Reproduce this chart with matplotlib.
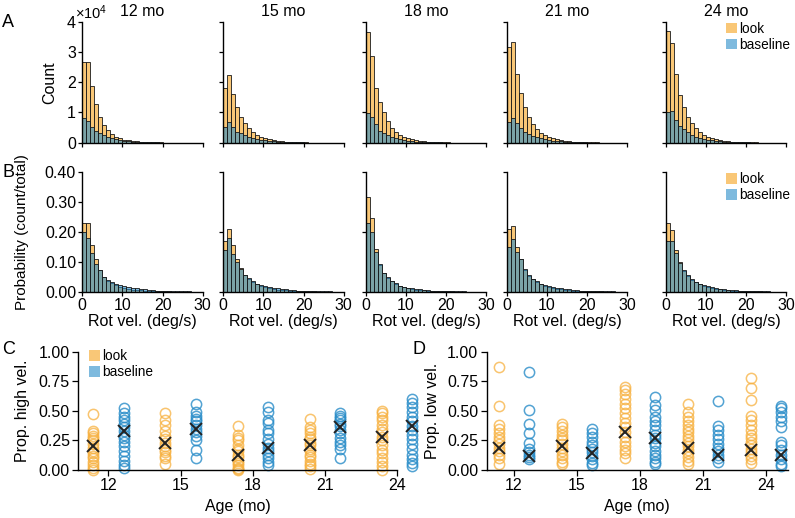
import numpy as np
import matplotlib
matplotlib.use("Agg")
import matplotlib.pyplot as plt
from matplotlib.colors import to_rgba
from matplotlib.patches import Patch

plt.rcParams['font.family'] = ['Liberation Sans', 'DejaVu Sans']
plt.rcParams['mathtext.default'] = 'regular'

ages = [12, 15, 18, 21, 24]
age_titles = ['12 mo', '15 mo', '18 mo', '21 mo', '24 mo']
bin_edges = np.arange(0, 31)

# panel A: counts per 1 deg/s bin
look_count_12 = [26800, 26800, 18700, 12800, 8600, 6000, 4200, 2900, 2000, 1400, 1000, 750, 560, 420, 320,
                 240, 180, 140, 100, 80, 60, 45, 35, 25, 20, 15, 10, 8, 5, 4]
base_count_12 = [8000, 7300, 5300, 3900, 3100, 2400, 1800, 1400, 1100, 850, 650, 500, 390, 300, 230,
                 180, 140, 110, 85, 65, 50, 40, 30, 22, 17, 13, 10, 7, 5, 4]
look_count_15 = [18000, 22400, 16100, 11900, 8600, 6400, 4700, 3400, 2500, 2000, 1500, 1100, 800, 600, 450,
                 340, 260, 200, 150, 110, 85, 65, 50, 38, 28, 20, 15, 11, 8, 6]
base_count_15 = [5300, 6900, 5100, 3600, 3100, 2400, 2000, 1600, 1300, 1000, 800, 620, 480, 370, 290,
                 220, 170, 130, 100, 78, 60, 46, 35, 27, 20, 15, 11, 8, 6, 4]
look_count_18 = [36700, 28800, 18000, 13600, 10200, 7300, 4700, 3600, 2500, 2000, 1500, 1100, 800, 600, 450,
                 340, 250, 190, 140, 100, 75, 55, 40, 30, 22, 16, 12, 9, 6, 4]
base_count_18 = [9700, 8400, 6200, 4000, 3100, 2500, 2000, 1500, 1150, 880, 670, 510, 390, 300, 230,
                 175, 135, 100, 78, 60, 45, 35, 26, 20, 15, 11, 8, 6, 4, 3]
look_count_21 = [31500, 33200, 22700, 16300, 11700, 8400, 6100, 4400, 3300, 2500, 2000, 1500, 1150, 870, 660,
                 500, 380, 290, 220, 165, 125, 95, 72, 55, 42, 32, 24, 18, 13, 10]
base_count_21 = [6900, 8000, 6400, 4700, 3600, 2900, 2300, 1800, 1400, 1100, 850, 660, 510, 400, 310,
                 240, 185, 145, 110, 85, 66, 51, 40, 31, 24, 18, 14, 11, 8, 6]
look_count_24 = [37000, 32800, 22700, 15800, 11700, 8600, 6600, 4700, 3500, 2600, 2000, 1500, 1150, 870, 660,
                 500, 380, 290, 220, 165, 125, 95, 72, 55, 42, 32, 24, 18, 13, 10]
base_count_24 = [10200, 10500, 7500, 5500, 4400, 3400, 2600, 2000, 1600, 1250, 950, 730, 560, 430, 330,
                 255, 195, 150, 115, 88, 68, 52, 40, 31, 24, 18, 14, 11, 8, 6]

# panel B: probability per bin
look_prob_12 = [0.229, 0.229, 0.156, 0.108, 0.072, 0.048, 0.036, 0.028, 0.021, 0.016, 0.012, 0.009, 0.007, 0.0055,
                0.0043, 0.0034, 0.0027, 0.0021, 0.0016, 0.0013, 0.001, 0.0008, 0.0006, 0.0005, 0.0004, 0.0003,
                0.00025, 0.0002, 0.00015, 0.0001]
base_prob_12 = [0.200, 0.178, 0.130, 0.093, 0.074, 0.049, 0.038, 0.033, 0.026, 0.022, 0.019, 0.015, 0.013, 0.011,
                0.009, 0.0075, 0.006, 0.005, 0.004, 0.0033, 0.0027, 0.0022, 0.0018, 0.0014, 0.0011, 0.0009,
                0.0007, 0.0005, 0.0004, 0.0003]
look_prob_15 = [0.170, 0.211, 0.156, 0.110, 0.080, 0.055, 0.043, 0.033, 0.025, 0.020, 0.016, 0.012, 0.009, 0.007,
                0.0055, 0.0043, 0.0034, 0.0027, 0.0021, 0.0016, 0.0013, 0.001, 0.0008, 0.0006, 0.0005, 0.0004,
                0.0003, 0.00025, 0.0002, 0.00015]
base_prob_15 = [0.141, 0.178, 0.126, 0.099, 0.075, 0.057, 0.046, 0.036, 0.027, 0.022, 0.019, 0.016, 0.013, 0.011,
                0.009, 0.0075, 0.006, 0.005, 0.004, 0.0033, 0.0027, 0.0022, 0.0018, 0.0014, 0.0011, 0.0009,
                0.0007, 0.0005, 0.0004, 0.0003]
look_prob_18 = [0.317, 0.247, 0.142, 0.088, 0.062, 0.046, 0.035, 0.026, 0.019, 0.015, 0.012, 0.009, 0.007, 0.0055,
                0.0043, 0.0034, 0.0027, 0.0021, 0.0016, 0.0013, 0.001, 0.0008, 0.0006, 0.0005, 0.0004, 0.0003,
                0.00025, 0.0002, 0.00015, 0.0001]
base_prob_18 = [0.230, 0.200, 0.133, 0.091, 0.064, 0.048, 0.037, 0.028, 0.020, 0.016, 0.013, 0.011, 0.009, 0.0075,
                0.006, 0.005, 0.004, 0.0033, 0.0027, 0.0022, 0.0018, 0.0014, 0.0011, 0.0009, 0.0007, 0.0005,
                0.0004, 0.0003, 0.0002, 0.00015]
look_prob_21 = [0.209, 0.220, 0.148, 0.110, 0.074, 0.054, 0.041, 0.032, 0.025, 0.020, 0.016, 0.012, 0.0095, 0.0075,
                0.006, 0.0047, 0.0037, 0.0029, 0.0023, 0.0018, 0.0014, 0.0011, 0.0009, 0.0007, 0.0005, 0.0004,
                0.0003, 0.00025, 0.0002, 0.00015]
base_prob_21 = [0.148, 0.176, 0.134, 0.108, 0.077, 0.057, 0.044, 0.035, 0.027, 0.022, 0.019, 0.016, 0.013, 0.011,
                0.009, 0.0075, 0.006, 0.005, 0.004, 0.0033, 0.0027, 0.0022, 0.0018, 0.0014, 0.0011, 0.0009,
                0.0007, 0.0005, 0.0004, 0.0003]
look_prob_24 = [0.231, 0.207, 0.141, 0.099, 0.070, 0.053, 0.040, 0.031, 0.025, 0.020, 0.016, 0.012, 0.0095, 0.0075,
                0.006, 0.0047, 0.0037, 0.0029, 0.0023, 0.0018, 0.0014, 0.0011, 0.0009, 0.0007, 0.0005, 0.0004,
                0.0003, 0.00025, 0.0002, 0.00015]
base_prob_24 = [0.170, 0.170, 0.130, 0.097, 0.071, 0.055, 0.042, 0.033, 0.027, 0.022, 0.018, 0.015, 0.012, 0.010,
                0.008, 0.0065, 0.0053, 0.0043, 0.0035, 0.0028, 0.0022, 0.0018, 0.0014, 0.0011, 0.0009, 0.0007,
                0.0005, 0.0004, 0.0003, 0.0002]

look_counts = [look_count_12, look_count_15, look_count_18, look_count_21, look_count_24]
base_counts = [base_count_12, base_count_15, base_count_18, base_count_21, base_count_24]
look_probs = [look_prob_12, look_prob_15, look_prob_18, look_prob_21, look_prob_24]
base_probs = [base_prob_12, base_prob_15, base_prob_18, base_prob_21, base_prob_24]

# panel C: proportion high velocity, one value per infant
high_look = [
    [0.47, 0.33, 0.31, 0.29, 0.27, 0.25, 0.22, 0.19, 0.16, 0.14, 0.12, 0.10, 0.07, 0.04, 0.02, 0.0],
    [0.48, 0.42, 0.38, 0.33, 0.29, 0.26, 0.23, 0.20, 0.17, 0.15, 0.12, 0.10, 0.05],
    [0.37, 0.30, 0.27, 0.25, 0.21, 0.18, 0.16, 0.13, 0.11, 0.08, 0.06, 0.04, 0.02, 0.01, 0.0],
    [0.43, 0.36, 0.34, 0.31, 0.28, 0.26, 0.23, 0.21, 0.18, 0.16, 0.13, 0.11, 0.08, 0.05, 0.03, 0.01],
    [0.50, 0.48, 0.45, 0.42, 0.38, 0.35, 0.32, 0.28, 0.25, 0.21, 0.17, 0.14, 0.10, 0.07, 0.03, 0.0],
]
high_base = [
    [0.52, 0.48, 0.45, 0.42, 0.39, 0.36, 0.33, 0.30, 0.27, 0.24, 0.20, 0.16, 0.12, 0.08, 0.04, 0.02],
    [0.56, 0.49, 0.46, 0.43, 0.41, 0.38, 0.35, 0.32, 0.29, 0.25, 0.17, 0.10],
    [0.53, 0.49, 0.42, 0.40, 0.34, 0.31, 0.26, 0.22, 0.19, 0.16, 0.13, 0.10, 0.07, 0.04],
    [0.48, 0.46, 0.44, 0.42, 0.39, 0.37, 0.34, 0.31, 0.27, 0.24, 0.21, 0.18, 0.10],
    [0.60, 0.57, 0.53, 0.49, 0.45, 0.41, 0.37, 0.34, 0.30, 0.26, 0.22, 0.18, 0.13, 0.09, 0.06, 0.03],
]
high_look_mean = [0.20, 0.23, 0.13, 0.21, 0.28]
high_base_mean = [0.33, 0.35, 0.19, 0.36, 0.37]

# panel D: proportion low velocity
low_look = [
    [0.87, 0.54, 0.38, 0.35, 0.31, 0.28, 0.25, 0.22, 0.19, 0.16, 0.13, 0.10, 0.05],
    [0.39, 0.36, 0.33, 0.30, 0.27, 0.25, 0.22, 0.19, 0.16, 0.13, 0.10, 0.07, 0.05],
    [0.70, 0.68, 0.64, 0.60, 0.56, 0.52, 0.48, 0.44, 0.40, 0.36, 0.32, 0.28, 0.24, 0.20, 0.17, 0.14, 0.10],
    [0.56, 0.49, 0.45, 0.41, 0.38, 0.35, 0.32, 0.29, 0.26, 0.23, 0.20, 0.17, 0.14, 0.11, 0.08, 0.05],
    [0.78, 0.69, 0.59, 0.46, 0.42, 0.38, 0.34, 0.30, 0.27, 0.24, 0.21, 0.18, 0.15, 0.12, 0.09, 0.06],
]
low_base = [
    [0.83, 0.51, 0.39, 0.31, 0.23, 0.18, 0.15, 0.13, 0.11, 0.09],
    [0.35, 0.31, 0.28, 0.24, 0.21, 0.18, 0.15, 0.12, 0.09, 0.06, 0.04],
    [0.62, 0.55, 0.51, 0.45, 0.41, 0.38, 0.34, 0.30, 0.27, 0.23, 0.20, 0.16, 0.13, 0.10, 0.07, 0.05],
    [0.58, 0.37, 0.34, 0.30, 0.26, 0.22, 0.19, 0.16, 0.13, 0.10, 0.07],
    [0.54, 0.52, 0.49, 0.45, 0.41, 0.36, 0.24, 0.21, 0.17, 0.13, 0.09, 0.05, 0.03],
]
low_look_mean = [0.19, 0.20, 0.32, 0.19, 0.17]
low_base_mean = [0.12, 0.14, 0.27, 0.13, 0.13]

LOOK = '#F7B03E'
BASE = '#288CC8'
look_face = to_rgba(LOOK, 0.7)
base_face = to_rgba(BASE, 0.6)
FS = 11.5

W, H = 795, 518
fig = plt.figure(figsize=(W / 100, H / 100), dpi=100)


def add_ax(left, top, right, bottom):
    return fig.add_axes([left / W, 1 - bottom / H, (right - left) / W, (bottom - top) / H])


def style(ax):
    for s in ['top', 'right']:
        ax.spines[s].set_visible(False)
    for s in ['left', 'bottom']:
        ax.spines[s].set_linewidth(1.0)
    ax.tick_params(direction='out', length=3, width=0.9, labelsize=FS, pad=1.5)


def legend(ax, **kw):
    handles = [Patch(facecolor=look_face, edgecolor='none', label='look'),
               Patch(facecolor=base_face, edgecolor='none', label='baseline')]
    ax.legend(handles=handles, frameon=False, fontsize=9.8, handlelength=0.8, handleheight=0.85,
              handletextpad=0.15, labelspacing=0.15, borderpad=0, borderaxespad=0, **kw)


centers = bin_edges[:-1] + 0.5
col_left = [82.3, 223.3, 365.7, 506.7, 665.7]
col_w = 120.5

for i in range(5):
    axA = add_ax(col_left[i], 21.7, col_left[i] + col_w, 142.7)
    axB = add_ax(col_left[i], 172.0, col_left[i] + col_w, 291.7)
    for ax, lk, bs in [(axA, look_counts[i], base_counts[i]), (axB, look_probs[i], base_probs[i])]:
        ax.bar(centers, lk, width=1, facecolor=look_face, edgecolor='#1a1a1a', linewidth=0.6)
        ax.bar(centers, bs, width=1, facecolor=base_face, edgecolor='#1a1a1a', linewidth=0.6)
        ax.set_xlim(0, 30)
        ax.set_xticks([0, 10, 20, 30])
        style(ax)
    axA.set_ylim(0, 40000)
    axA.set_yticks([0, 10000, 20000, 30000, 40000])
    axA.set_xticklabels([])
    axA.set_title(age_titles[i], fontsize=FS, pad=4)
    axB.set_ylim(0, 0.4)
    axB.set_xlabel('Rot vel. (deg/s)', fontsize=FS, labelpad=1)
    if i == 0:
        axA.set_yticklabels(['0', '1', '2', '3', '4'])
        axA.set_ylabel('Count', fontsize=FS)
        axA.yaxis.set_label_coords(-0.21, 0.5)
        axA.text(-0.06, 1.0, r'$\times10^{4}$', transform=axA.transAxes, fontsize=FS - 1,
                 ha='left', va='bottom')
        axB.set_yticks([0, 0.1, 0.2, 0.3, 0.4])
        axB.set_yticklabels(['0.00', '0.10', '0.20', '0.30', '0.40'])
        axB.set_ylabel('Probability (count/total)', fontsize=11)
        axB.yaxis.set_label_coords(-0.44, 0.5)
    else:
        axA.set_yticklabels([])
        axB.set_yticks([0, 0.2, 0.4])
        axB.set_yticklabels([])
    if i == 4:
        legend(axA, loc='upper right', bbox_to_anchor=(1.03, 1.0))
        legend(axB, loc='upper right', bbox_to_anchor=(1.03, 1.0))


def scatter_panel(ax, look_vals, base_vals, look_mean, base_mean, off):
    for j, a in enumerate(ages):
        ax.plot([a - off] * len(look_vals[j]), look_vals[j], 'o', mfc='none', mec=LOOK, mew=1.1,
                ms=7.4, alpha=0.75, clip_on=False)
        ax.plot([a + off] * len(base_vals[j]), base_vals[j], 'o', mfc='none', mec=BASE, mew=1.1,
                ms=7.4, alpha=0.8, clip_on=False)
    ax.plot([a - off for a in ages], look_mean, 'x', color='#222222', ms=9, mew=1.4, ls='none',
            clip_on=False, zorder=5)
    ax.plot([a + off for a in ages], base_mean, 'x', color='#222222', ms=9, mew=1.4, ls='none',
            clip_on=False, zorder=5)
    ax.set_ylim(0, 1)
    ax.set_yticks([0, 0.25, 0.5, 0.75, 1.0])
    ax.set_yticklabels(['0.00', '0.25', '0.50', '0.75', '1.00'])
    ax.set_xticks(ages)
    ax.set_xlabel('Age (mo)', fontsize=FS, labelpad=4)
    style(ax)
    ax.tick_params(length=4, pad=2)


axC = add_ax(78.3, 351.7, 397.0, 470.0)
scatter_panel(axC, high_look, high_base, high_look_mean, high_base_mean, 0.63)
axC.set_xlim(10.75, 24.0)
axC.set_ylabel('Prop. high vel.', fontsize=FS)
axC.yaxis.set_label_coords(-0.152, 0.5)
legend(axC, loc='upper left', bbox_to_anchor=(0.035, 1.02))

axD = add_ax(486.7, 351.7, 788.0, 470.0)
scatter_panel(axD, low_look, low_base, low_look_mean, low_base_mean, 0.7)
axD.set_xlim(10.7, 25.05)
axD.set_ylabel('Prop. low vel.', fontsize=FS)
axD.yaxis.set_label_coords(-0.155, 0.5)

for letter, x, y in [('A', 2, 14), ('B', 2, 164), ('C', 2, 341), ('D', 412, 341)]:
    fig.text(x / W, 1 - y / H, letter, fontsize=13, ha='left', va='top')

fig.savefig('out.png', dpi=100)
